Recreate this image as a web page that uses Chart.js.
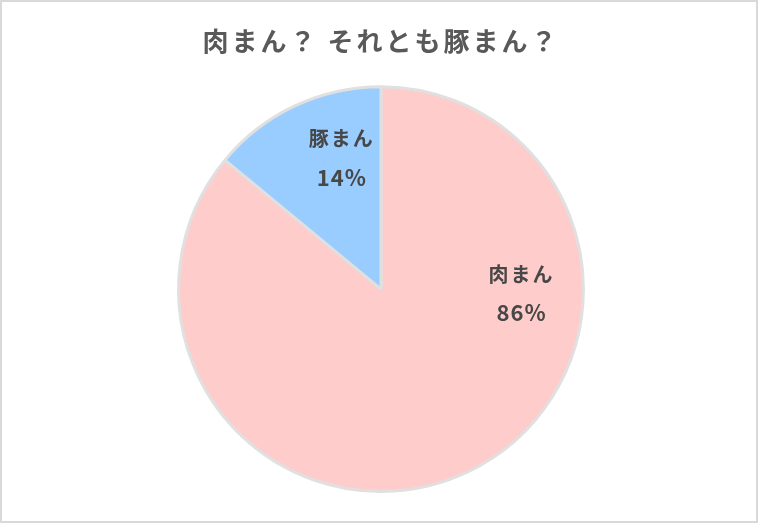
<!DOCTYPE html>
<html>
<head>
<meta charset="utf-8">
<script src="https://cdn.jsdelivr.net/npm/chart.js@4/dist/chart.umd.min.js"></script>
<style>
  html, body { margin: 0; padding: 0; background: #fff; }
  #wrap { width: 758px; height: 523px; }
</style>
</head>
<body>
<div id="wrap"><canvas id="myChart" width="758" height="523"></canvas></div>
<script>
// data
var categories = ['肉まん', '豚まん'];
var shares = [86, 14];
var titleText = '肉まん？ それとも豚まん？';

// style only
var sliceColors = ['#FFCCCC', '#99CCFF'];
var labelAngles = [1.6, -107];   // degrees, where Excel put the labels
var labelDist = [0.69, 0.68];   // fraction of radius
var fontFamily = '"Noto Sans CJK JP", "Noto Sans", sans-serif';

// white background + outer frame, and wider title spacing
var framePlugin = {
    id: 'frame',
    beforeDraw: function (chart) {
        var c = chart.ctx;
        c.save();
        c.fillStyle = '#ffffff';
        c.fillRect(0, 0, chart.width, chart.height);
        c.strokeStyle = '#d9d9d9';
        c.lineWidth = 2;
        c.strokeRect(1, 1, chart.width - 2, chart.height - 2);
        c.restore();
        c.letterSpacing = '3px';
    },
    beforeDatasetsDraw: function (chart) {
        chart.ctx.letterSpacing = '0px';
    }
};

// category name + percent inside the slices
var sliceLabels = {
    id: 'sliceLabels',
    afterDatasetsDraw: function (chart) {
        var c = chart.ctx;
        var meta = chart.getDatasetMeta(0);
        c.save();
        c.fillStyle = '#474747';
        c.textAlign = 'center';
        c.textBaseline = 'middle';
        meta.data.forEach(function (arc, i) {
            var a = labelAngles[i] * Math.PI / 180;
            var r = arc.outerRadius * labelDist[i];
            var x = arc.x + Math.cos(a) * r;
            var y = arc.y + Math.sin(a) * r;
            c.letterSpacing = '2px';
            c.font = 'bold 20px ' + fontFamily;
            c.fillText(chart.data.labels[i], x + 1, y - 19);
            c.letterSpacing = '1px';
            c.font = 'bold 22px ' + fontFamily;
            c.fillText(shares[i] + '%', x + 1, y + 20);
        });
        c.letterSpacing = '0px';
        c.restore();
    }
};

var ctx = document.getElementById('myChart').getContext('2d');
var myChart = new Chart(ctx, {
    type: 'pie',
    data: {
        labels: categories,
        datasets: [{
            data: shares,
            backgroundColor: sliceColors,
            borderColor: '#e0e0e0',
            borderWidth: 3
        }]
    },
    options: {
        responsive: false,
        animation: false,
        layout: {
            padding: { left: 4, right: 0, top: 0, bottom: 30 }
        },
        plugins: {
            legend: { display: false },
            tooltip: { enabled: false },
            title: {
                display: true,
                text: titleText,
                color: '#595959',
                font: { family: fontFamily, size: 26, weight: 'bold' },
                padding: { top: 26, bottom: 28 }
            }
        }
    },
    plugins: [framePlugin, sliceLabels]
});
</script>
</body>
</html>
